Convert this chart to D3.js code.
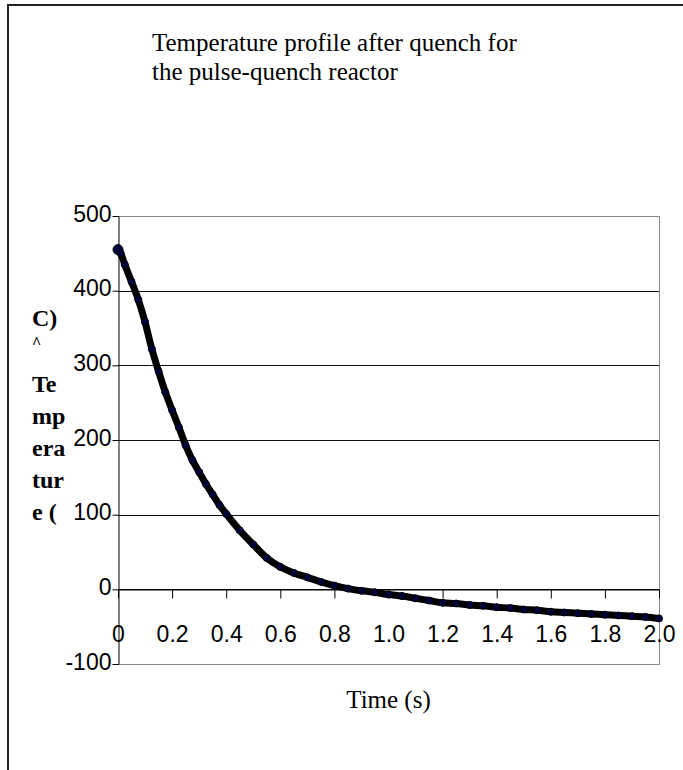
<!DOCTYPE html>
<html>
<head>
<meta charset="utf-8">
<script src="https://cdn.jsdelivr.net/npm/d3@7"></script>
<style>
  body { margin: 0; background: #fff; }
  svg { display: block; }
</style>
</head>
<body>
<svg id="chart" width="683" height="770"></svg>
<script>
// values
const timeS = [0, 0.01, 0.025, 0.05, 0.075, 0.1, 0.125, 0.15, 0.175, 0.2, 0.225, 0.25, 0.275, 0.3,
  0.325, 0.35, 0.375, 0.4, 0.45, 0.5, 0.55, 0.6, 0.65, 0.7, 0.75, 0.8, 0.85, 0.9, 0.95, 1.0,
  1.05, 1.1, 1.15, 1.2, 1.25, 1.3, 1.35, 1.4, 1.45, 1.5, 1.55, 1.6, 1.65, 1.7, 1.75, 1.8,
  1.85, 1.9, 1.95, 2.0];
const tempC = [455, 450, 435, 412, 388, 358, 322, 292, 264, 240, 217, 193, 173, 157,
  141, 127, 113, 101, 79, 60, 42, 30, 22, 16, 10, 5, 1, -2, -4, -7,
  -9, -12, -15, -18, -19, -21, -22, -24, -25, -27, -28, -30, -31, -32, -33, -34,
  -35, -36, -37, -39];

const yTicks = [-100, 0, 100, 200, 300, 400, 500];
const xTicks = [0, 0.2, 0.4, 0.6, 0.8, 1.0, 1.2, 1.4, 1.6, 1.8, 2.0];
const xTickLabels = ["0", "0.2", "0.4", "0.6", "0.8", "1.0", "1.2", "1.4", "1.6", "1.8", "2.0"];
const titleLines = ["Temperature profile after quench for", "the pulse-quench reactor"];
const yLabelLines = ["C)", "^", "Te", "mp", "era", "tur", "e ("];
const xLabel = "Time (s)";

const svg = d3.select("#chart");
const plot = { left: 118, right: 659, top: 216, bottom: 664 };

const x = d3.scaleLinear().domain([0, 2]).range([plot.left, plot.right]);
const y = d3.scaleLinear().domain([-100, 500]).range([plot.bottom, plot.top]);

// chart area border (only left and top show in the picture)
svg.append("path")
  .attr("d", "M8,770V5H683")
  .attr("fill", "none")
  .attr("stroke", "#222")
  .attr("stroke-width", 2);

// title
svg.append("g").selectAll("text")
  .data(titleLines)
  .join("text")
  .attr("x", 152)
  .attr("y", (d, i) => 51 + i * 29)
  .style("font-family", "'Liberation Serif', 'Times New Roman', serif")
  .style("font-size", "25px")
  .text(d => d);

// horizontal gridlines
svg.append("g").selectAll("line")
  .data(yTicks.filter(d => d > -100))
  .join("line")
  .attr("x1", plot.left).attr("x2", plot.right)
  .attr("y1", d => Math.round(y(d)) + 0.5).attr("y2", d => Math.round(y(d)) + 0.5)
  .attr("stroke", d => d === 500 ? "#888" : "#111")
  .attr("stroke-width", 1);

// plot area border (right and bottom)
svg.append("path")
  .attr("d", `M${plot.right + 0.5},${plot.top}V${plot.bottom + 0.5}H${plot.left}`)
  .attr("fill", "none")
  .attr("stroke", "#888");

// y axis
const yAxis = svg.append("g")
  .attr("transform", `translate(${plot.left + 0.5},0)`)
  .call(d3.axisLeft(y).tickValues(yTicks).tickSize(6).tickSizeOuter(0).tickPadding(1)
    .tickFormat(d => String(d)));
yAxis.selectAll("text")
  .attr("dy", "0.22em")
  .style("font-family", "'Liberation Sans', Arial, sans-serif")
  .style("font-size", "23px")
  .attr("fill", "#000");
yAxis.selectAll("line, path").attr("stroke", "#000");

// x axis sits on zero
const xAxis = svg.append("g")
  .attr("transform", `translate(0,${Math.round(y(0)) + 0.5})`)
  .call(d3.axisBottom(x).tickValues(xTicks).tickSize(9).tickSizeOuter(0).tickPadding(27)
    .tickFormat((d, i) => xTickLabels[i]));
xAxis.selectAll("text")
  .style("font-family", "'Liberation Sans', Arial, sans-serif")
  .style("font-size", "23px")
  .attr("fill", "#000");
xAxis.selectAll("line, path").attr("stroke", "#000");

// x axis title
svg.append("text")
  .attr("x", (plot.left + plot.right) / 2)
  .attr("y", 708)
  .attr("text-anchor", "middle")
  .style("font-family", "'Liberation Serif', 'Times New Roman', serif")
  .style("font-size", "25px")
  .text(xLabel);

// y axis title, wrapped into a narrow box like the original
svg.append("g").selectAll("text")
  .data(yLabelLines)
  .join("text")
  .attr("x", 32)
  .attr("y", (d, i) => i < 2 ? [326, 348][i] : 392 + (i - 2) * 32)
  .style("font-family", "'Liberation Serif', 'Times New Roman', serif")
  .style("font-weight", "bold")
  .style("font-size", d => d === "^" ? "16px" : "24px")
  .text(d => d);

// the data: thick line of dense markers
const pts = timeS.map((t, i) => ({ t, v: tempC[i] }));

svg.append("path")
  .datum(pts)
  .attr("fill", "none")
  .attr("stroke", "#000")
  .attr("stroke-width", 7)
  .attr("stroke-linejoin", "round")
  .attr("d", d3.line().x(d => x(d.t)).y(d => y(d.v)).curve(d3.curveMonotoneX));

svg.append("g").selectAll("circle")
  .data(pts)
  .join("circle")
  .attr("cx", d => x(d.t))
  .attr("cy", d => y(d.v))
  .attr("r", (d, i) => i === 0 ? 5 : 3.5)
  .attr("fill", "#00003a")
  .attr("stroke", "#000")
  .attr("stroke-width", 1);
</script>
</body>
</html>
